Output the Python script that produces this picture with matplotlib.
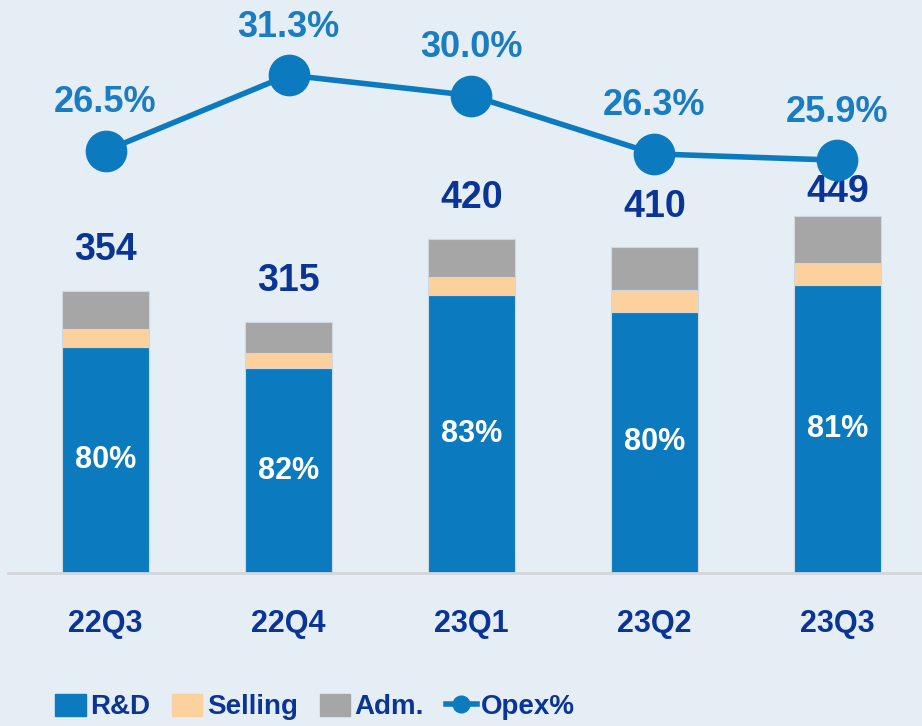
import matplotlib.pyplot as plt
from matplotlib.lines import Line2D
from matplotlib.patches import Patch

quarters = ['22Q3', '22Q4', '23Q1', '23Q2', '23Q3']
rd = [284, 257, 349, 328, 362]
selling = [22, 20, 23, 28, 28]
adm = [48, 38, 48, 54, 59]
totals = [354, 315, 420, 410, 449]
rd_share = [80, 82, 83, 80, 81]
opex_pct = [26.5, 31.3, 30.0, 26.3, 25.9]

bg = '#e5edf5'
navy = '#0a3596'
blue = '#0c7abf'
peach = '#fdd19e'
grey = '#a6a6a6'

big = ['Liberation Sans', 'DejaVu Sans']

fig = plt.figure(figsize=(9.22, 7.26), dpi=100, facecolor=bg)
ax = fig.add_axes([8 / 922, 153 / 726, 1 - 8 / 922, 573 / 726])
ax.set_facecolor(bg)

x = range(len(quarters))
w = 0.475
ec = '#cfd8e2'
ax.bar(x, rd, w, color=blue, edgecolor=ec, linewidth=0.8, zorder=2)
ax.bar(x, selling, w, bottom=rd, color=peach, edgecolor=ec, linewidth=0.8, zorder=2)
bott = [a + b for a, b in zip(rd, selling)]
ax.bar(x, adm, w, bottom=bott, color=grey, edgecolor=ec, linewidth=0.8, zorder=2)

ax.set_xlim(-0.533, 4.462)
ax.set_ylim(0, 720)
ax.set_yticks([])
for s in ['top', 'right', 'left']:
    ax.spines[s].set_visible(False)
ax.spines['bottom'].set_color('#d3d6da')
ax.spines['bottom'].set_linewidth(2)
ax.set_xticks(list(x))
ax.set_xticklabels(quarters, fontsize=22, fontweight='bold', color=navy, family=big)
ax.tick_params(axis='x', length=0, pad=26)

# total labels (last one sits closer to the bar top)
offs = [41, 41, 41, 40, 24]
for i, t in enumerate(totals):
    ax.annotate(str(t), (i, t), xytext=(0, offs[i] * 0.72), textcoords='offset points',
                ha='center', va='center', fontsize=27, fontweight='bold',
                color=navy, family=big, zorder=5)

for i, (r, s) in enumerate(zip(rd, rd_share)):
    ax.text(i, r / 2, f'{s}%', ha='center', va='center', fontsize=22,
            fontweight='bold', color='white', family=big, zorder=5)

ax2 = ax.twinx()
ax2.set_ylim(-0.28, 36.06)
ax2.axis('off')
ax2.plot(list(x), opex_pct, color=blue, linewidth=4, marker='o', markersize=29,
         zorder=3)
for i, p in enumerate(opex_pct):
    ax2.annotate(f'{p:.1f}%', (i, p), xytext=(0, 48 * 0.72), textcoords='offset points',
                 ha='center', va='center', fontsize=26, fontweight='bold',
                 color='#1a7cc1', family=big)

handles = [Patch(color=blue), Patch(color=peach), Patch(color=grey),
           Line2D([], [], color=blue, linewidth=4, marker='o', markersize=12)]
labels = ['R&D', 'Selling', 'Adm.', 'Opex%']
leg = fig.legend(handles, labels, loc='center left', bbox_to_anchor=(30 / 922, 1 - 707 / 726),
                 ncol=4, frameon=False, handlelength=1.1, handleheight=0.85,
                 handletextpad=0.15, columnspacing=0.8,
                 prop={'family': big, 'weight': 'bold', 'size': 20})
for t in leg.get_texts():
    t.set_color(navy)

fig.savefig('out.png', dpi=100, facecolor=bg)
